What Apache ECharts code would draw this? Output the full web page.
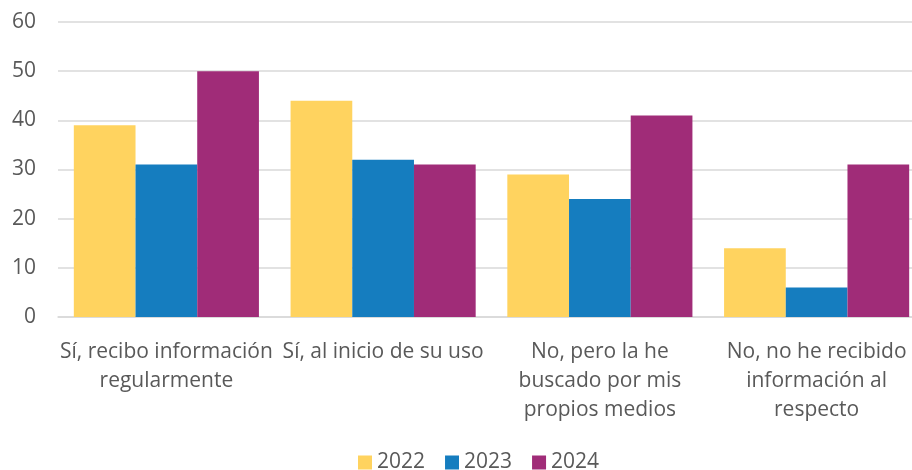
<!DOCTYPE html>
<html>
<head>
<meta charset="utf-8">
<script src="https://cdn.jsdelivr.net/npm/echarts@6/dist/echarts.min.js"></script>
<style>
    html, body { margin: 0; padding: 0; background: #fff; }
    #chart { width: 912px; height: 470px; }
</style>
</head>
<body>
<div id="chart"></div>
<script>
const categories = [
    'Sí, recibo información\nregularmente',
    'Sí, al inicio de su uso',
    'No, pero la he\nbuscado por mis\npropios medios',
    'No, no he recibido\ninformación al\nrespecto'
]
const years = ['2022', '2023', '2024']
const values2022 = [39, 44, 29, 14]
const values2023 = [31, 32, 24, 6]
const values2024 = [50, 31, 41, 31]
const yTicks = [0, 10, 20, 30, 40, 50, 60]
const colors = ['#FFD35F', '#157DBF', '#A02C78']

const chart = echarts.init(document.getElementById('chart'))
const font = '"Open Sans", sans-serif'
const seriesData = [values2022, values2023, values2024]

let option = {
    animation: false,
    color: colors,
    grid: {
        left: 58,
        right: -13,
        top: 22,
        bottom: 153,
        outerBoundsMode: 'none'
    },
    legend: {
        top: 447,
        left: 353,
        itemWidth: 14,
        itemHeight: 14,
        itemGap: 20,
        icon: 'rect',
        textStyle: { fontFamily: font, fontSize: 21, color: '#595959' },
        data: years
    },
    xAxis: {
        type: 'category',
        data: categories,
        axisTick: { show: false },
        axisLine: { lineStyle: { color: '#d9d9d9', width: 1.5 } },
        axisLabel: {
            interval: 0,
            margin: 21,
            fontFamily: font,
            fontSize: 21,
            lineHeight: 29,
            color: '#595959'
        }
    },
    yAxis: {
        type: 'value',
        min: yTicks[0],
        max: yTicks[yTicks.length - 1],
        interval: 10,
        axisLabel: {
            margin: 22,
            fontFamily: font,
            fontSize: 21,
            color: '#595959'
        },
        splitLine: { lineStyle: { color: '#d9d9d9', width: 1.5 } }
    },
    series: []
}

years.forEach((y, i) => {
    option.series.push({
        name: y,
        type: 'bar',
        data: seriesData[i],
        barGap: '0%',
        barCategoryGap: '14.6%'
    })
})

chart.setOption(option)
</script>
</body>
</html>
